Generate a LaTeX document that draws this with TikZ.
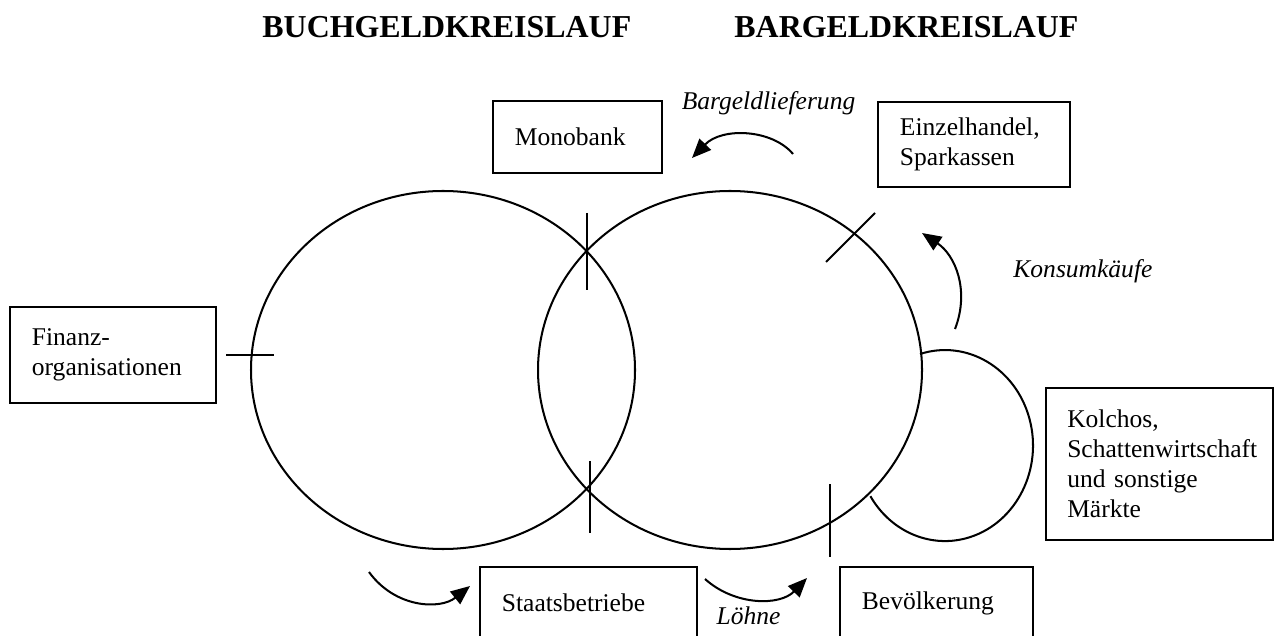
\documentclass[tikz,border=0pt]{standalone}
\usepackage{fontspec}
\setmainfont{Liberation Serif}
\usetikzlibrary{arrows.meta}
\begin{document}
\begin{tikzpicture}[x=0.47pt,y=-0.47pt,
  box/.style={draw, line width=1.1pt, inner xsep=10.3pt, inner ysep=0pt, align=left,
    font=\fontsize{12}{14.1}\selectfont},
  lbl/.style={inner sep=0pt, font=\fontsize{12}{14.1}\selectfont\itshape},
  ttl/.style={inner sep=0pt, anchor=base west, font=\fontsize{15}{18}\selectfont\bfseries},
  ln/.style={line width=0.95pt},
  arr/.style={line width=0.95pt, -{Triangle[length=9pt,width=7.5pt]}}]
\path[use as bounding box, clip] (0,0) rectangle (1274,636);

% titles
\node[ttl] (t1) at (262,38) {BUCHGELDKREISLAUF};
\node[ttl] (t2) at (734,38) {BARGELDKREISLAUF};

% circuits
\draw[ln] (443,370) ellipse [x radius=192, y radius=179];
\draw[ln] (730,370) ellipse [x radius=192, y radius=179];
\coordinate (ls) at (920,354);
\draw[ln] (ls) arc[start angle=-106.5, end angle=148, x radius=88, y radius=95.5];

% boxes
\node[box, minimum width=79.4pt, minimum height=33.8pt, text width=58.8pt] (mono) at (577.5,137) {Monobank};
\node[box, minimum width=90.2pt, minimum height=40pt, text width=69.6pt] (einz) at (974,144.5) {Einzelhandel,\\Sparkassen};
\node[box, minimum width=96.8pt, minimum height=45.1pt, text width=76.2pt] (fin) at (113,355) {Finanz-\\organisationen};
\node[box, minimum width=106.7pt, minimum height=71.4pt, text width=86.7pt, inner xsep=10pt] (kol) at (1159.5,464) {Kolchos,\\Schattenwirtschaft\\und sonstige\\Märkte};
\node[box, minimum width=102pt, minimum height=34pt, text width=81.4pt] (staat) at (588.5,603) {Staatsbetriebe};
\node[box, minimum width=90.7pt, minimum height=34pt, text width=70.1pt] (bev) at (936.5,603) {Bevölkerung};

% ticks
\coordinate (a1) at (226,355); \coordinate (a2) at (274,355);
\coordinate (b1) at (587,213); \coordinate (b2) at (587,290);
\coordinate (c1) at (590,461); \coordinate (c2) at (590,533);
\coordinate (d1) at (830,484); \coordinate (d2) at (830,557);
\coordinate (e1) at (826,262); \coordinate (e2) at (875,213);
\draw[ln] (a1) -- (a2);
\draw[ln] (b1) -- (b2);
\draw[ln] (c1) -- (c2);
\draw[ln] (d1) -- (d2);
\draw[ln] (e1) -- (e2);

% flow arrows
\coordinate (p1) at (793,154); \coordinate (p2) at (692,158);
\draw[arr] (p1) .. controls (772,129) and (722,127) .. (p2);
\coordinate (q1) at (955,329); \coordinate (q2) at (922,233);
\draw[arr] (q1) .. controls (970,290) and (955,255) .. (q2);
\coordinate (r1) at (369,572); \coordinate (r2) at (470,586);
\draw[arr] (r1) .. controls (395,608) and (440,610) .. (r2);
\coordinate (s1) at (705,579); \coordinate (s2) at (807,578);
\draw[arr] (s1) .. controls (735,606) and (780,606) .. (s2);

% labels
\node[lbl, anchor=base] (l1) at (768.5,110) {Bargeldlieferung};
\node[lbl, anchor=base west] (l2) at (1013,278) {Konsumkäufe};
\node[lbl, anchor=base] (l3) at (748.5,624) {Löhne};
\end{tikzpicture}
\end{document}
